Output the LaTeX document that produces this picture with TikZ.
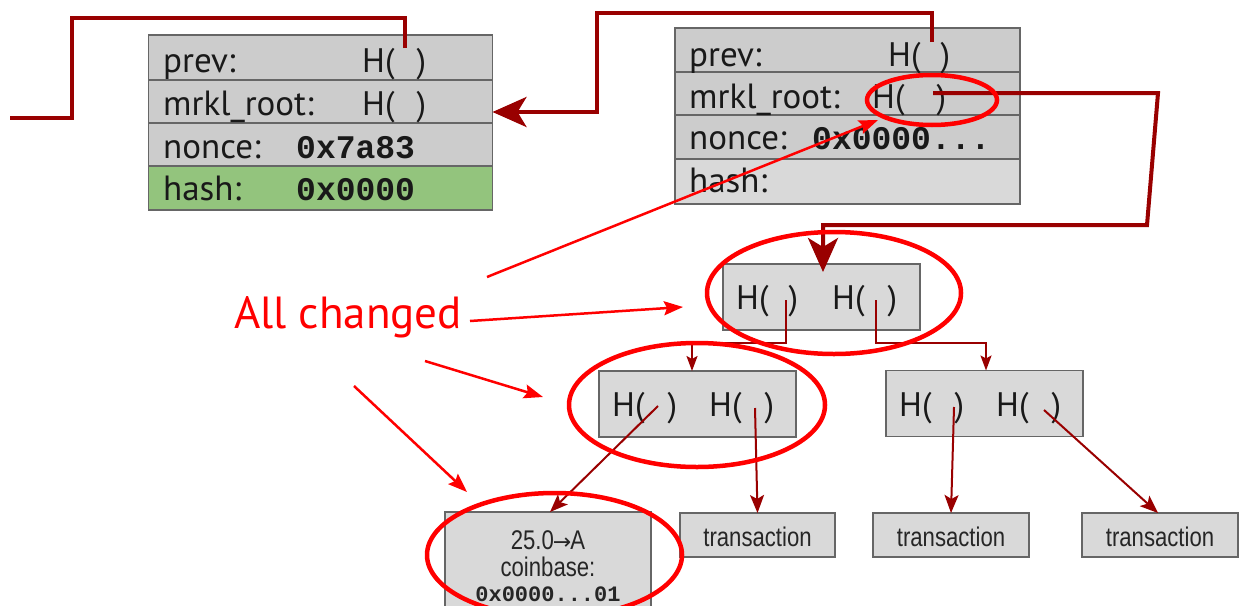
\documentclass[tikz,border=0pt]{standalone}
\usepackage{fontspec}
\setmainfont{PT Sans}
\newfontfamily\monofont{Liberation Mono}
\newfontfamily\arialn[FakeStretch=0.82]{Liberation Sans}
\newfontfamily\arrowfont{DejaVu Sans}
\usetikzlibrary{arrows.meta}
\definecolor{boxgray}{HTML}{CCCCCC}
\definecolor{lgray}{HTML}{D9D9D9}
\definecolor{hashgreen}{HTML}{93C47D}
\definecolor{bordergray}{HTML}{666666}
\definecolor{dred}{HTML}{990000}
\definecolor{bred}{HTML}{FF0000}
\begin{document}
\begin{tikzpicture}[x=1pt,y=-1pt,
  rowbox/.style={draw=bordergray, line width=1.8pt, fill=boxgray, minimum width=344pt, inner sep=0pt, outer sep=0pt},
  treebox/.style={draw=bordergray, line width=1.2pt, fill=lgray, minimum width=197pt, minimum height=66pt, inner sep=0pt, outer sep=0pt},
  txbox/.style={draw=bordergray, line width=1.5pt, fill=lgray, minimum width=156pt, minimum height=44pt, inner sep=0pt, outer sep=0pt},
  txtext/.style={anchor=base, inner sep=0pt, font=\arialn\fontsize{27}{30}\selectfont, text=black!85},
  lbl/.style={anchor=base west, inner sep=0pt, font=\fontsize{35}{40}\selectfont, text=black!90},
  hexv/.style={anchor=base west, inner sep=0pt, font=\monofont\bfseries\fontsize{33}{38}\selectfont, text=black!90},
  htxt/.style={anchor=base west, inner sep=0pt, font=\fontsize{34}{38}\selectfont, text=black!90},
  link/.style={draw=dred, line width=4pt, line join=miter},
  bigarrow/.style={link, -{Stealth[length=34pt,width=30pt,inset=9pt]}},
  tree/.style={draw=dred, line width=2pt},
  smallarrow/.style={tree, -{Stealth[length=15pt,width=11pt,inset=3pt]}},
  midarrow/.style={tree, -{Stealth[length=18pt,width=14pt,inset=4pt]}},
  ring/.style={draw=bred, line width=4.5pt},
  redarrow/.style={draw=bred, line width=2.5pt, -{Stealth[length=19pt,width=14pt,inset=3pt]}}
]
\useasboundingbox (0,0) rectangle (1249,605);
\clip (0,0) rectangle (1249,605);

% ---------- left block ----------
\node[rowbox, minimum height=45pt] (Lprev) at (320.5,57.5) {};
\node[rowbox, minimum height=43pt] (Lmrkl) at (320.5,101.5) {};
\node[rowbox, minimum height=43pt] (Lnonce) at (320.5,144.5) {};
\node[rowbox, minimum height=44pt, fill=hashgreen] (Lhash) at (320.5,188) {};
\node[lbl] (LprevT) at (163,72) {prev:};
\node[htxt] (LprevH) at (362,72) {H(\hspace{22pt})};
\node[lbl] (LmrklT) at (163,115) {mrkl\_root:};
\node[htxt] (LmrklH) at (362,115) {H(\hspace{22pt})};
\node[lbl] (LnonceT) at (163,158) {nonce:};
\node[hexv] (LnonceV) at (296,158) {0x7a83};
\node[lbl] (LhashT) at (163,200) {hash:};
\node[hexv] (LhashV) at (296,200) {0x0000};

% ---------- right block ----------
\node[rowbox, minimum width=345pt, minimum height=44pt] (Rprev) at (847.5,50) {};
\node[rowbox, minimum width=345pt, minimum height=43pt] (Rmrkl) at (847.5,93.5) {};
\node[rowbox, minimum width=345pt, minimum height=44pt] (Rnonce) at (847.5,137) {};
\node[rowbox, minimum width=345pt, minimum height=45pt, fill=lgray] (Rhash) at (847.5,181.5) {};
\node[lbl] (RprevT) at (689,66) {prev:};
\node[htxt] (RprevH) at (888,66) {H(\hspace{20pt})};
\node[lbl] (RmrklT) at (689,108) {mrkl\_root:};
\node[htxt] (RmrklH) at (872,108) {H(\hspace{32pt})};
\node[lbl] (RnonceT) at (689,149) {nonce:};
\node[hexv] (RnonceV) at (812,149) {0x0000...};
\node[lbl] (RhashT) at (689,192) {hash:};

% ---------- merkle tree ----------
\node[treebox] (top) at (821.5,297) {};
\node[htxt] (topH1) at (736,309) {H(\hspace{20pt})};
\node[htxt] (topH2) at (832,309) {H(\hspace{23pt})};
\node[treebox] (ml) at (697.5,404) {};
\node[htxt] (mlH1) at (612,416) {H(\hspace{23pt})};
\node[htxt] (mlH2) at (709,416) {H(\hspace{23pt})};
\node[treebox] (mr) at (984.5,403.5) {};
\node[htxt] (mrH1) at (899,416) {H(\hspace{23pt})};
\node[htxt] (mrH2) at (996,416) {H(\hspace{23pt})};

\node[txbox, minimum width=206pt, minimum height=120pt, anchor=north] (cb) at (548,512) {};
\node[txtext] (cb1) at (548,549) {25.0{\arrowfont\fontsize{22}{26}\selectfont\hspace{-1pt}→\hspace{-1pt}}A};
\node[txtext] (cb2) at (548,576) {coinbase:};
\node[anchor=base, inner sep=0pt, font=\monofont\bfseries\fontsize{22}{26}\selectfont, text=black!85] (cb3) at (548,601) {0x0000...01};
\node[txbox, minimum width=155pt] (tx2) at (757.5,535) {};
\node[txbox] (tx3) at (951,535) {};
\node[txbox] (tx4) at (1160,535) {};
\node[txtext] (tx2t) at (757.5,546) {transaction};
\node[txtext] (tx3t) at (951,546) {transaction};
\node[txtext] (tx4t) at (1160,546) {transaction};

% ---------- block links ----------
\coordinate (Lpin) at (405,48);
\coordinate (Lout) at (10,118);
\draw[link] (Lpin) -- (405,18) -- (72,18) -- (72,118) -- (Lout);

\coordinate (Rpin) at (932,42);
\draw[bigarrow] (Rpin) -- (932,13) -- (597,13) -- (597,112) -- (Lmrkl.east |- 0,112);

\coordinate (Rmin) at (933,93);
\draw[bigarrow] (Rmin) -- (1158,93) -- (1147,225) -- (823,225) -- (top.north -| 823,0) -- ++(0,8);

% ---------- tree links ----------
\coordinate (tA) at (786,300);
\coordinate (tB) at (876,300);
\draw[smallarrow] (tA) -- (786,343) -- (692,343) -- (ml.north -| 692,0);
\draw[smallarrow] (tB) -- (876,343) -- (986,343) -- (mr.north -| 986,0);
\coordinate (mlA) at (658,406);
\coordinate (mlB) at (755,408);
\coordinate (mrA) at (954,407);
\coordinate (mrB) at (1044,410);
\draw[midarrow] (mlA) -- (cb.north -| 550,0);
\draw[midarrow] (mlB) -- (tx2.north);
\draw[midarrow] (mrA) -- (tx3.north);
\draw[midarrow] (mrB) -- (tx4.north -| 1158,0);

% ---------- red annotations ----------
\draw[ring] (932,100) ellipse [x radius=65, y radius=25];
\draw[ring] (834,293) ellipse [x radius=127, y radius=61];
\draw[ring] (697,405) ellipse [x radius=128, y radius=62];
\draw[ring] (554.5,555) ellipse [x radius=127.5, y radius=62];

\node[anchor=base west, inner sep=0pt, text=bred, font=\fontsize{45}{50}\selectfont] (ac) at (234,328) {All changed};
\coordinate (s1) at (487,277);
\coordinate (s2) at (470,321);
\coordinate (s3) at (425,361);
\coordinate (s4) at (354,386);
\coordinate (e1) at (878,120);
\coordinate (e2) at (683,307);
\coordinate (e3) at (543,397);
\coordinate (e4) at (467,492);
\draw[redarrow] (s1) -- (e1);
\draw[redarrow] (s2) -- (e2);
\draw[redarrow] (s3) -- (e3);
\draw[redarrow] (s4) -- (e4);
\end{tikzpicture}
\end{document}
